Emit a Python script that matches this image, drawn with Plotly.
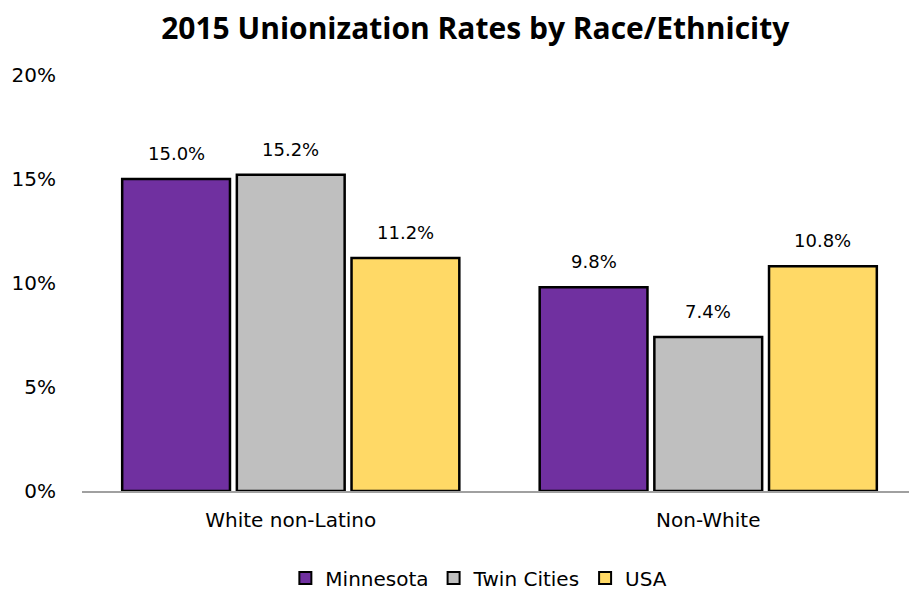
import plotly.graph_objects as go

categories = ["White non-Latino", "Non-White"]
minnesota = [15.0, 9.8]
twin_cities = [15.2, 7.4]
usa = [11.2, 10.8]
series_names = ["Minnesota", "Twin Cities", "USA"]
colors = ["#7030A0", "#BFBFBF", "#FFD966"]

FONT = "DejaVu Sans"
# page body has an 8px default margin; compensate
W, H = 909, 584
ML, MR, MT, MB = 74, 0, 67, 101
BARGAP = 0.176

fig = go.Figure()
for name, vals, col in zip(series_names, [minnesota, twin_cities, usa], colors):
    fig.add_trace(go.Bar(
        name=name, x=categories, y=vals,
        marker=dict(color=col, line=dict(color="black", width=2.5)),
    ))

# data labels as annotations placed above each bar
plot_w = W - ML - MR
slot_px = plot_w / len(categories) * (1 - BARGAP) / len(series_names)
for i, vals in enumerate([minnesota, twin_cities, usa]):
    for cat, v in zip(categories, vals):
        fig.add_annotation(
            x=cat, y=v, xref="x", yref="y", text=f"{v:.1f}%",
            showarrow=False, xanchor="center", yanchor="bottom",
            xshift=(i - 1) * slot_px, yshift=13,
            font=dict(size=18, color="black", family=FONT),
        )

fig.update_layout(
    width=W, height=H,
    barmode="group", bargap=BARGAP, bargroupgap=0.06,
    plot_bgcolor="white", paper_bgcolor="white",
    margin=dict(l=ML, r=MR, t=MT, b=MB, autoexpand=False),
    title=dict(text="<b>2015 Unionization Rates by Race/Ethnicity</b>",
               x=0.514, xanchor="center", y=0.965, yanchor="middle",
               font=dict(size=30, color="black", family="Open Sans")),
    font=dict(family=FONT, color="black"),
    yaxis=dict(range=[0, 20], tickvals=[0, 5, 10, 15, 20],
               ticktext=["0%", "5%", "10%", "15%", "20%"],
               showgrid=False, zeroline=False, showline=False,
               tickfont=dict(size=20), ticks="", ticklabelstandoff=25,
               automargin=False),
    xaxis=dict(showline=True, linecolor="#A0A0A0", linewidth=1.5,
               tickfont=dict(size=20), ticks="", ticklabelstandoff=10,
               automargin=False),
    legend=dict(orientation="h", xref="container", x=0.518, xanchor="center",
                y=-0.209, yanchor="middle",
                font=dict(size=20), itemsizing="constant", traceorder="normal"),
    showlegend=True,
)
fig.write_html("out.html")
